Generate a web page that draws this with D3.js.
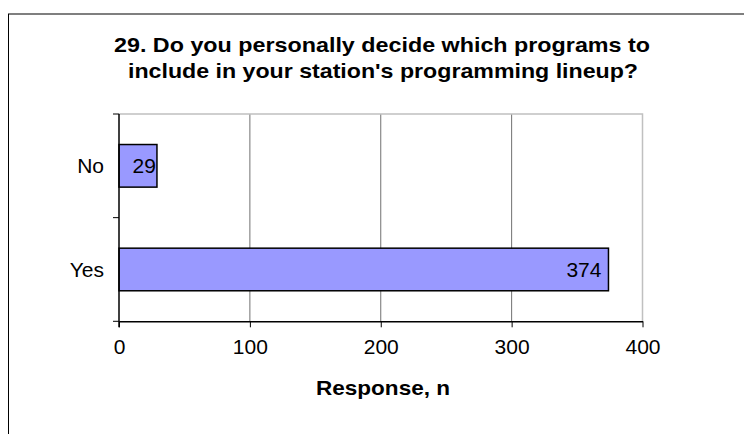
<!DOCTYPE html>
<html>
<head>
<meta charset="utf-8">
<script src="https://cdn.jsdelivr.net/npm/d3@7"></script>
<style>
  html, body { margin: 0; padding: 0; background: #fff; }
  svg { display: block; font-family: "Liberation Sans", Arial, sans-serif; }
</style>
</head>
<body>
<svg id="chart" width="744" height="434"></svg>
<script>
const categories = ["No", "Yes"];
const values = [29, 374];
const xTicks = [0, 100, 200, 300, 400];
const titleLines = ["29. Do you personally decide which programs to", "include in your station's programming lineup?"];
const xTitle = "Response, n";

const svg = d3.select("#chart");
const plot = { left: 119, right: 642.5, top: 114, bottom: 321.3 };
const fs = 21;

// outer chart border (extends past right/bottom of view)
svg.append("rect").attr("x", 8.5).attr("y", 14).attr("width", 800).attr("height", 500)
  .attr("fill", "#fff").attr("stroke", "#000").attr("stroke-width", 1);

const x = d3.scaleLinear().domain([0, 400]).range([plot.left, plot.right]);
const y = d3.scaleBand().domain(categories).range([plot.top, plot.bottom])
  .paddingInner(0.589).paddingOuter(0.2945);

// gridlines
svg.append("g").selectAll("line").data(xTicks.filter(v => v > 0 && v < 400)).join("line")
  .attr("x1", d => x(d)).attr("x2", d => x(d)).attr("y1", plot.top).attr("y2", plot.bottom)
  .attr("stroke", "#707070").attr("stroke-width", 1);

// plot border (top, right)
svg.append("path")
  .attr("d", `M${plot.left},${plot.top}H${plot.right}V${plot.bottom}`)
  .attr("fill", "none").attr("stroke", "#c0c0c0").attr("stroke-width", 1.5);

// bars
svg.append("g").selectAll("rect").data(categories).join("rect")
  .attr("x", x(0)).attr("y", d => y(d))
  .attr("width", (d, i) => x(values[i]) - x(0)).attr("height", y.bandwidth())
  .attr("fill", "#9999ff").attr("stroke", "#000").attr("stroke-width", 1.5);

// value labels
svg.append("g").selectAll("text").data(categories).join("text")
  .attr("x", (d, i) => { const w = x(values[i]) - x(0); return x(values[i]) - (w > 60 ? 7 : 1); })
  .attr("y", d => y(d) + y.bandwidth() / 2 + 7.5)
  .attr("text-anchor", "end").attr("font-size", fs).attr("fill", "#000")
  .text((d, i) => values[i]);

// x axis
const xAxis = svg.append("g").attr("transform", `translate(0,${plot.bottom})`)
  .call(d3.axisBottom(x).tickValues(xTicks).tickSize(6).tickSizeOuter(0).tickPadding(12));
xAxis.select(".domain").attr("stroke", "#000").attr("stroke-width", 1.5);
xAxis.selectAll(".tick line").attr("stroke", "#000").attr("stroke-width", 1);
xAxis.selectAll(".tick text").attr("font-size", fs).attr("font-family", "Liberation Sans, Arial, sans-serif").attr("fill", "#000");

// y axis line and category boundary ticks
svg.append("line").attr("x1", plot.left).attr("x2", plot.left).attr("y1", plot.top).attr("y2", plot.bottom + 6)
  .attr("stroke", "#000").attr("stroke-width", 1.5);
const bounds = d3.range(categories.length + 1).map(i => y.range()[0] + i * y.step());
svg.append("g").selectAll("line").data(bounds).join("line")
  .attr("x1", plot.left - 6).attr("x2", plot.left).attr("y1", d => d).attr("y2", d => d)
  .attr("stroke", "#000").attr("stroke-width", 1);

// category labels
svg.append("g").selectAll("text").data(categories).join("text")
  .attr("x", 104).attr("y", d => y(d) + y.bandwidth() / 2 + 7.5)
  .attr("text-anchor", "end").attr("font-size", fs).attr("fill", "#000")
  .text(d => d);

// title
const tl = [{ t: titleLines[0], y: 52, x1: 114, x2: 650 }, { t: titleLines[1], y: 78, x1: 128, x2: 638 }];
svg.append("g").selectAll("text").data(tl).join("text")
  .attr("x", d => d.x1).attr("y", d => d.y)
  .attr("font-size", 21).attr("font-weight", "bold").attr("fill", "#000")
  .attr("textLength", d => d.x2 - d.x1).attr("lengthAdjust", "spacingAndGlyphs")
  .text(d => d.t);

// x axis title
svg.append("text").attr("x", 316).attr("y", 395)
  .attr("font-size", fs).attr("font-weight", "bold").attr("fill", "#000")
  .attr("textLength", 134).attr("lengthAdjust", "spacingAndGlyphs")
  .text(xTitle);
</script>
</body>
</html>
